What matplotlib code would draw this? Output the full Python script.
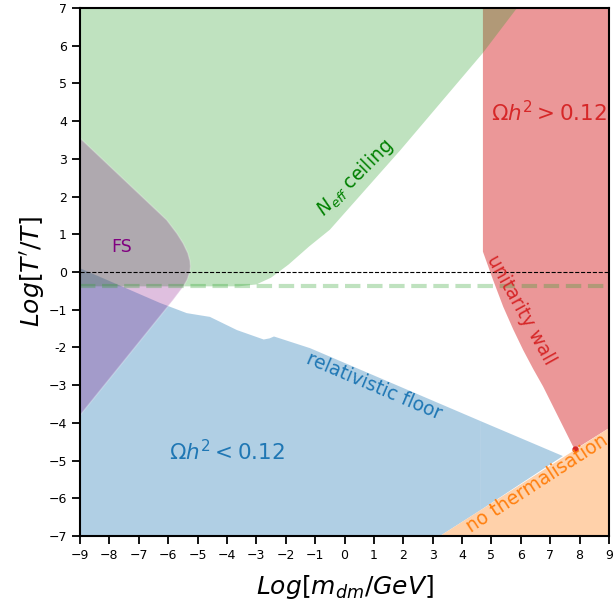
import numpy as np
import matplotlib
matplotlib.use("Agg")
import matplotlib.pyplot as plt

# boundaries (x = log10 m_dm/GeV, y = log10 T'/T)
neff_x = [5.87, 4.71, 1.9, -0.5, -1.2, -1.9, -2.5, -3.0, -3.6, -9.0]
neff_y = [7.0, 5.81, 3.23, 1.12, 0.68, 0.2, -0.15, -0.33, -0.38, -0.38]

floor_x = [-9.0, -6.28, -5.37, -4.9, -4.58, -3.66, -2.75, -2.55, -2.4, -2.2, -1.17, 4.62, 7.43]
floor_y = [0.1, -0.82, -1.09, -1.15, -1.19, -1.54, -1.79, -1.76, -1.71, -1.76, -2.02, -3.95, -4.88]

wall_x = [4.71, 4.71, 5.05, 5.40, 5.74, 6.08, 6.42, 6.76, 7.10, 7.44, 7.78, 7.85]
wall_y = [7.0, 0.54, -0.2, -0.92, -1.52, -2.07, -2.57, -3.04, -3.57, -4.10, -4.63, -4.70]

therm_x = [3.25, 9.0]
therm_y = [-7.0, -4.14]

fs_x = [-9.0, -6.05, -5.7, -5.49, -5.33, -5.26, -5.24, -5.26, -5.35, -5.49, -5.83, -9.0]
fs_y = [3.55, 1.38, 1.02, 0.76, 0.5, 0.3, 0.15, 0.02, -0.2, -0.39, -0.74, -3.8]

neff_floor = -0.37
endpoint = (7.83, -4.68)

xticks = list(range(-9, 10))
yticks = list(range(-7, 8))
ytick_labels = ['\u22127', '\u22126', '\u22125', '\u22124', '\u22123', '-2', '\u22121',
                '0', '1', '2', '3', '4', '5', '6', '7']

fig = plt.figure(figsize=(6.13, 6.09), dpi=100)
ax = fig.add_axes([80 / 613, 73 / 609, 529 / 613, 528 / 609])

# overclosure region (unitarity wall down to no-thermalisation line)
ax.fill(wall_x + [therm_x[1], 9.0], wall_y + [therm_y[1], 7.0],
        color='tab:red', alpha=0.48, lw=0)

# relativistic floor, drawn in two pieces (seam at x=4.62 as in original)
split = floor_x.index(4.62)
y_split = np.interp(4.62, therm_x, therm_y)
ax.fill(floor_x[:split + 1] + [4.62, therm_x[0], -9.0],
        floor_y[:split + 1] + [y_split, -7.0, -7.0],
        color='tab:blue', alpha=0.35, lw=0)
ax.fill(floor_x[split:] + [4.62],
        floor_y[split:] + [y_split],
        color='tab:blue', alpha=0.35, lw=0)

# N_eff ceiling
ax.fill([-9.0] + neff_x, [7.0] + neff_y, color='tab:green', alpha=0.3, lw=0)

# no thermalisation
ax.fill(therm_x + [9.0], therm_y + [-7.0], color='#ffd1aa', lw=0)

# free streaming
ax.fill(fs_x, fs_y, facecolor='purple', alpha=0.25,
        edgecolor=(1, 1, 1, 0.5), lw=1)

ax.axhline(0, color='black', ls='--', lw=0.8)
ax.axhline(neff_floor, color='tab:green', ls='--', lw=3, alpha=0.3)
ax.plot(*endpoint, 'o', color='tab:red', ms=3.5)

ax.text(-7.6, 0.66, 'FS', color='purple', fontsize=12.5, ha='center', va='center')
ax.text(6.96, 4.22, r'$\Omega h^2 > 0.12$', color='tab:red', fontsize=15.5,
        ha='center', va='center')
ax.text(-4.0, -4.77, r'$\Omega h^2 < 0.12$', color='tab:blue', fontsize=15.5,
        ha='center', va='center')
ax.text(0.36, 2.49, r'$N_{eff}$ ceiling', color='green', fontsize=13.5,
        rotation=45, ha='center', va='center')
ax.text(1.0, -3.02, 'relativistic floor', color='tab:blue', fontsize=13.5,
        rotation=-23, ha='center', va='center')
ax.text(6.0, -1.0, 'unitarity wall', color='tab:red', fontsize=13.5,
        rotation=-61, ha='center', va='center')
ax.text(6.55, -5.6, 'no thermalisation', color='tab:orange', fontsize=13.5,
        rotation=33, ha='center', va='center')

ax.set_xlim(-9, 9)
ax.set_ylim(-7, 7)
ax.set_xticks(xticks)
ax.set_yticks(yticks)
ax.set_yticklabels(ytick_labels)
ax.tick_params(labelsize=9, length=6, width=1.3)
for s in ax.spines.values():
    s.set_linewidth(1.5)

ax.set_xlabel(r'$Log[m_{dm}/GeV]$', fontsize=18, labelpad=8)
ax.set_ylabel(r"$Log[T'/T]$", fontsize=18, labelpad=1)

fig.savefig('out.png', dpi=100)
